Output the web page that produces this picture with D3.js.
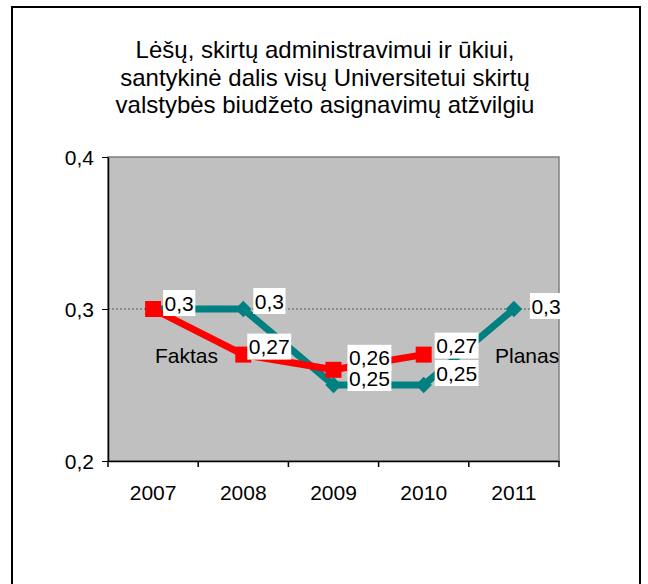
<!DOCTYPE html>
<html>
<head>
<meta charset="utf-8">
<script src="https://cdn.jsdelivr.net/npm/d3@7"></script>
<style>
  body { margin: 0; background: #fff; }
  text { font-family: "Liberation Sans", Arial, sans-serif; }
</style>
</head>
<body>
<script>
// chart data
const years = ["2007", "2008", "2009", "2010", "2011"];
const planas = [0.3, 0.3, 0.25, 0.25, 0.3];   // teal line
const faktas = [0.3, 0.27, 0.26, 0.27];       // red line (no 2011 value)
const yTicks = [0.2, 0.3, 0.4];
const titleLines = [
  "Lėšų, skirtų administravimui ir ūkiui,",
  "santykinė dalis visų Universitetui skirtų",
  "valstybės biudžeto asignavimų atžvilgiu"
];
// label box nudges (px) from the point, so they sit like in the original
const planasLabelDx = [10, 10, 14, 11, 16];
const planasLabelDy = [-6, -8, -7, -12, -3];
const faktasLabelDx = [10, 4, 14, 11];
const faktasLabelDy = [-6, -8, -12, -9];

const W = 648, H = 584;
const fmt = v => String(v).replace(".", ",");

const svg = d3.select("body").append("svg")
  .attr("width", W).attr("height", H);

// outer frame (bottom edge falls outside the picture)
svg.append("path")
  .attr("d", "M12,590 L12,7 L640,7 L640,590")
  .attr("fill", "none").attr("stroke", "#000").attr("stroke-width", 2);

// title
svg.append("g").selectAll("text").data(titleLines).enter().append("text")
  .attr("x", 325).attr("y", (d, i) => 58 + i * 27.5)
  .attr("text-anchor", "middle")
  .attr("font-size", 24)
  .text(d => d);

const plot = { left: 108, right: 559, top: 157, bottom: 461 };

const x = d3.scaleBand().domain(years).range([plot.left, plot.right]);
const y = d3.scaleLinear().domain([0.2, 0.4]).range([plot.bottom, plot.top]);
const cx = d => x(d) + x.bandwidth() / 2;

// plot area
svg.append("rect")
  .attr("x", plot.left).attr("y", plot.top)
  .attr("width", plot.right - plot.left).attr("height", plot.bottom - plot.top)
  .attr("fill", "#c0c0c0").attr("stroke", "#808080").attr("stroke-width", 1.5);

// gridline
svg.append("g").selectAll("line").data(yTicks.filter(t => t > 0.2 && t < 0.4)).enter()
  .append("line")
  .attr("x1", plot.left).attr("x2", plot.right)
  .attr("y1", d => y(d)).attr("y2", d => y(d))
  .attr("stroke", "#555").attr("stroke-width", 1).attr("stroke-dasharray", "2,2");

// axes
const yAxis = svg.append("g").attr("transform", `translate(${plot.left},0)`)
  .call(d3.axisLeft(y).tickValues(yTicks).tickFormat(fmt).tickSize(6).tickSizeOuter(0));
const xAxis = svg.append("g").attr("transform", `translate(0,${plot.bottom})`)
  .call(d3.axisBottom(x).tickSize(0).tickSizeOuter(0));
[yAxis, xAxis].forEach(a => {
  a.select(".domain").attr("stroke", "#000").attr("stroke-width", 1.5);
  a.selectAll("text").attr("font-size", 21).attr("fill", "#000")
    .attr("font-family", "Liberation Sans, Arial, sans-serif");
});
yAxis.selectAll(".tick line").attr("stroke", "#000");
yAxis.selectAll("text").attr("x", -14).attr("dy", "0.35em");
xAxis.selectAll("text").attr("dy", 0).attr("y", 39);

// category ticks on band edges
svg.append("g").selectAll("line").data(years.map(d => x(d)).concat([plot.right])).enter()
  .append("line")
  .attr("x1", d => d).attr("x2", d => d)
  .attr("y1", plot.bottom).attr("y2", plot.bottom + 6)
  .attr("stroke", "#000").attr("stroke-width", 1.5);

const line = d3.line().x(d => cx(d.year)).y(d => y(d.v));

const planasPts = planas.map((v, i) => ({ year: years[i], v, dx: planasLabelDx[i], dy: planasLabelDy[i] }));
const faktasPts = faktas.map((v, i) => ({ year: years[i], v, dx: faktasLabelDx[i], dy: faktasLabelDy[i] }));

// teal line with diamonds
svg.append("path").datum(planasPts).attr("d", line)
  .attr("fill", "none").attr("stroke", "#008080").attr("stroke-width", 7);
svg.append("g").selectAll("path").data(planasPts).enter().append("path")
  .attr("d", d3.symbol().type(d3.symbolDiamond2).size(170))
  .attr("transform", d => `translate(${cx(d.year)},${y(d.v)})`)
  .attr("fill", "#008080");

// red line with squares
svg.append("path").datum(faktasPts).attr("d", line)
  .attr("fill", "none").attr("stroke", "#ff0000").attr("stroke-width", 7);
svg.append("g").selectAll("rect").data(faktasPts).enter().append("rect")
  .attr("x", d => cx(d.year) - 8).attr("y", d => y(d.v) - 8)
  .attr("width", 16).attr("height", 16)
  .attr("fill", "#ff0000");

// data labels with white boxes
function labels(pts, skipFirst) {
  const g = svg.append("g").selectAll("g").data(pts.filter((d, i) => !(skipFirst && i === 0))).enter()
    .append("g")
    .attr("transform", d => `translate(${cx(d.year) + d.dx},${y(d.v) + d.dy})`);
  g.append("text")
    .attr("font-size", 21).attr("dy", "0.36em").attr("x", 1.5)
    .text(d => fmt(d.v));
  g.each(function () {
    const b = d3.select(this).select("text").node().getBBox();
    d3.select(this).insert("rect", "text")
      .attr("x", 0).attr("y", -13).attr("width", b.width + 3).attr("height", 26)
      .attr("fill", "#fff");
  });
}
labels(planasPts, true);
labels(faktasPts, false);

// series names
svg.append("text").attr("x", 155).attr("y", 363).attr("font-size", 21).text("Faktas");
svg.append("text").attr("x", 495).attr("y", 363).attr("font-size", 21).text("Planas");
</script>
</body>
</html>
